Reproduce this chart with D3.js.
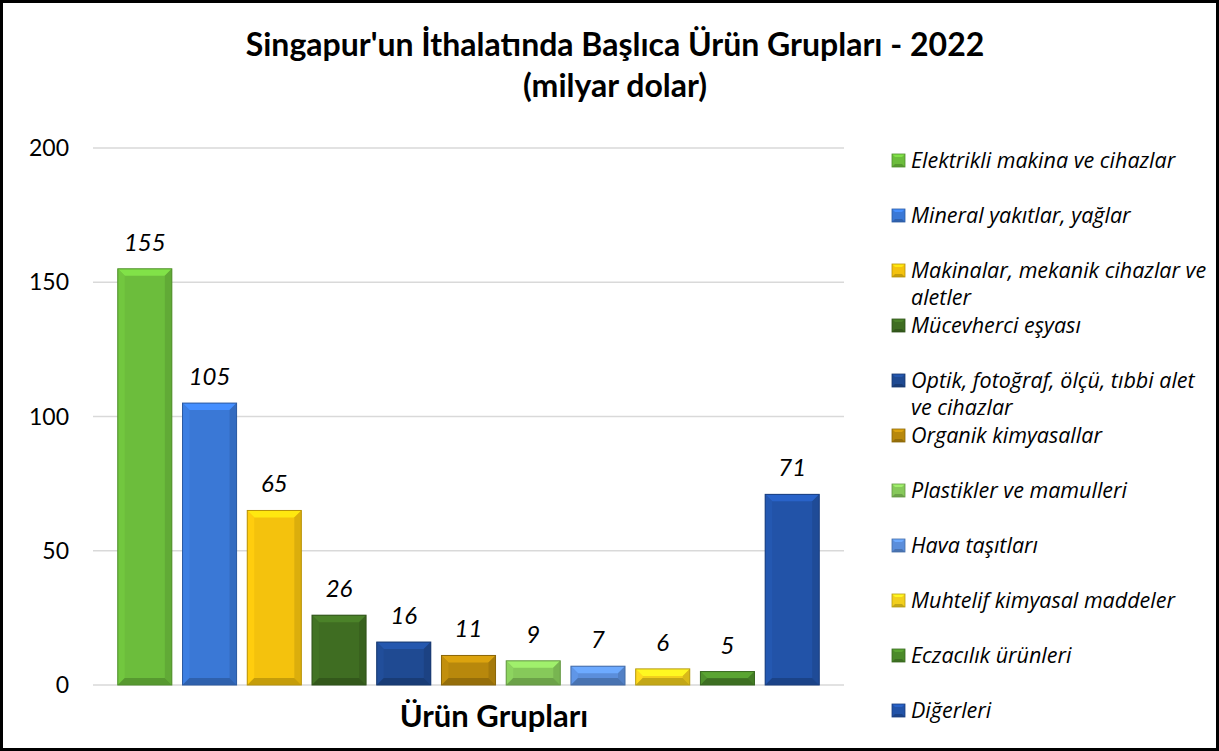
<!DOCTYPE html>
<html>
<head>
<meta charset="utf-8">
<style>
body { margin: 0; background: #fff; }
text { font-family: Lato, "Open Sans", sans-serif; fill: #000; }
.legend text { font-family: "Open Sans", sans-serif; }
.grid line { stroke: #d9d9d9; stroke-width: 1.5px; }
</style>
</head>
<body>
<script src="https://cdn.jsdelivr.net/npm/d3@7"></script>
<script>

// chart data
var categories = ["Elektrikli makina ve cihazlar", "Mineral yakıtlar, yağlar",
  "Makinalar, mekanik cihazlar ve aletler", "Mücevherci eşyası",
  "Optik, fotoğraf, ölçü, tıbbi alet ve cihazlar", "Organik kimyasallar",
  "Plastikler ve mamulleri", "Hava taşıtları", "Muhtelif kimyasal maddeler",
  "Eczacılık ürünleri", "Diğerleri"];
var values = [155, 105, 65, 26, 16, 11, 9, 7, 6, 5, 71];
var colors = ["#6cbd3c", "#3a78d6", "#f4c20d", "#3f6d22", "#1f4a92", "#b8880c",
  "#86c95a", "#5b8edb", "#f2cf1c", "#4b8a2a", "#2253a8"];
var yTicks = [0, 50, 100, 150, 200];
// legend lines (wrapped like the original)
var legendLines = [["Elektrikli makina ve cihazlar"], ["Mineral yakıtlar, yağlar"],
  ["Makinalar, mekanik cihazlar ve", "aletler"], ["Mücevherci eşyası"],
  ["Optik, fotoğraf, ölçü, tıbbi alet", "ve cihazlar"], ["Organik kimyasallar"],
  ["Plastikler ve mamulleri"], ["Hava taşıtları"], ["Muhtelif kimyasal maddeler"],
  ["Eczacılık ürünleri"], ["Diğerleri"]];

var width = 1219, height = 751;

var svg = d3.select("body").append("svg")
    .attr("width", width)
    .attr("height", height);

// outer border
svg.append("rect")
    .attr("x", 1.5).attr("y", 1.5)
    .attr("width", width - 3).attr("height", height - 3)
    .attr("fill", "#fff")
    .attr("stroke", "#000")
    .attr("stroke-width", 3);

// title
svg.append("text")
    .attr("x", 615).attr("y", 56)
    .attr("text-anchor", "middle")
    .style("font-size", "32px").style("font-weight", "bold")
    .text("Singapur'un İthalatında Başlıca Ürün Grupları - 2022");
svg.append("text")
    .attr("x", 615).attr("y", 97)
    .attr("text-anchor", "middle")
    .style("font-size", "32px").style("font-weight", "bold")
    .text("(milyar dolar)");

var y = d3.scaleLinear().domain([0, 200]).range([685, 148]);
var x = d3.scaleBand().domain(categories).range([112.6, 824.4]).paddingInner(0.165).paddingOuter(0.08);

// gridlines
svg.append("g").attr("class", "grid")
  .selectAll("line").data(yTicks).enter().append("line")
    .attr("x1", 93).attr("x2", 844)
    .attr("y1", d => y(d)).attr("y2", d => y(d));

// y axis labels
svg.append("g").selectAll("text").data(yTicks).enter().append("text")
    .attr("x", 69).attr("y", d => y(d) + 8)
    .attr("text-anchor", "end")
    .style("font-size", "23px")
    .text(d => d);

// bars with a bevel look
var bars = svg.append("g").selectAll("g").data(values).enter().append("g");

bars.each(function(v, i) {
  var g = d3.select(this);
  var x0 = x(categories[i]), w = x.bandwidth();
  var y0 = y(v), h = y(0) - y(v);
  var b = Math.min(7, h / 2);
  var c = d3.color(colors[i]);
  g.append("rect").attr("x", x0).attr("y", y0).attr("width", w).attr("height", h)
      .attr("fill", c);
  // top bevel
  g.append("path").attr("fill", c.brighter(0.5))
      .attr("d", "M" + x0 + "," + y0 + "L" + (x0 + w) + "," + y0 + "L" + (x0 + w - b) + "," + (y0 + b) + "L" + (x0 + b) + "," + (y0 + b) + "Z");
  // left bevel
  g.append("path").attr("fill", c.brighter(0.15))
      .attr("d", "M" + x0 + "," + y0 + "L" + (x0 + b) + "," + (y0 + b) + "L" + (x0 + b) + "," + (y0 + h - b) + "L" + x0 + "," + (y0 + h) + "Z");
  // right bevel
  g.append("path").attr("fill", c.darker(0.3))
      .attr("d", "M" + (x0 + w) + "," + y0 + "L" + (x0 + w - b) + "," + (y0 + b) + "L" + (x0 + w - b) + "," + (y0 + h - b) + "L" + (x0 + w) + "," + (y0 + h) + "Z");
  // bottom bevel
  g.append("path").attr("fill", c.darker(0.6))
      .attr("d", "M" + x0 + "," + (y0 + h) + "L" + (x0 + b) + "," + (y0 + h - b) + "L" + (x0 + w - b) + "," + (y0 + h - b) + "L" + (x0 + w) + "," + (y0 + h) + "Z");
  g.append("rect").attr("x", x0).attr("y", y0).attr("width", w).attr("height", h)
      .attr("fill", "none").attr("stroke", c.darker(0.8)).attr("stroke-width", 1);
});

// value labels
svg.append("g").selectAll("text").data(values).enter().append("text")
    .attr("x", (d, i) => x(categories[i]) + x.bandwidth() / 2)
    .attr("y", d => y(d) - 18)
    .attr("text-anchor", "middle")
    .style("font-size", "24px").style("font-style", "italic")
    .text(d => d);

// x axis title
svg.append("text")
    .attr("x", 494).attr("y", 727)
    .attr("text-anchor", "middle")
    .style("font-size", "31px").style("font-weight", "bold")
    .text("Ürün Grupları");

// legend
var legend = svg.append("g").attr("class", "legend")
  .selectAll("g").data(legendLines).enter().append("g")
    .attr("transform", (d, i) => "translate(892," + (160 + i * 55) + ")");

legend.each(function(lines, i) {
  var g = d3.select(this);
  var c = d3.color(colors[i]);
  var s = 13, b = 3;
  g.append("rect").attr("x", 0).attr("y", -6).attr("width", s).attr("height", s).attr("fill", c);
  g.append("path").attr("fill", c.brighter(0.5))
      .attr("d", "M0,-6L" + s + ",-6L" + (s - b) + "," + (-6 + b) + "L" + b + "," + (-6 + b) + "Z");
  g.append("path").attr("fill", c.darker(0.6))
      .attr("d", "M0," + (s - 6) + "L" + b + "," + (s - 6 - b) + "L" + (s - b) + "," + (s - 6 - b) + "L" + s + "," + (s - 6) + "Z");
  g.append("rect").attr("x", 0).attr("y", -6).attr("width", s).attr("height", s)
      .attr("fill", "none").attr("stroke", c.darker(0.8)).attr("stroke-width", 0.8);
  g.selectAll("text").data(lines).enter().append("text")
      .attr("x", 19).attr("y", (d, j) => 8 + j * 27)
      .style("font-size", "21.5px").style("font-style", "italic")
      .text(d => d);
});

</script>
</body>
</html>
